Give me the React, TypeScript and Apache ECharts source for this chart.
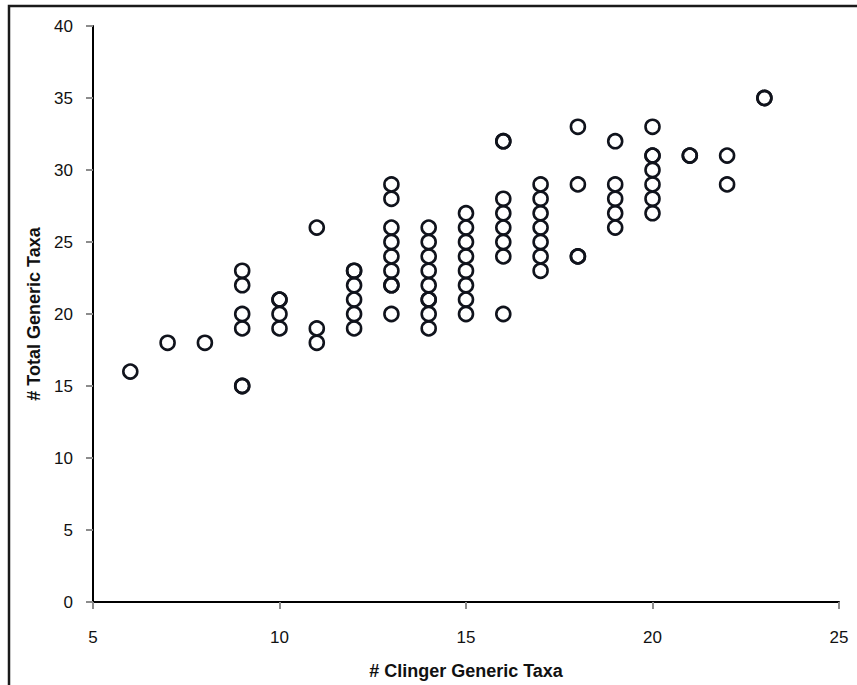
import React, { useEffect, useRef } from "react";
import * as echarts from "echarts";

// # Clinger Generic Taxa (x) and # Total Generic Taxa (y), one entry per site
const clingerTaxa = [
  6,
  7,
  8,
  9, 9, 9, 9, 9, 9,
  10, 10, 10, 10,
  11, 11, 11,
  12, 12, 12, 12, 12, 12,
  13, 13, 13, 13, 13, 13, 13, 13, 13,
  14, 14, 14, 14, 14, 14, 14, 14, 14,
  15, 15, 15, 15, 15, 15, 15, 15,
  16, 16, 16, 16, 16, 16, 16, 16,
  17, 17, 17, 17, 17, 17, 17,
  18, 18, 18, 18,
  19, 19, 19, 19, 19,
  20, 20, 20, 20, 20, 20, 20,
  21, 21,
  22, 22,
  23, 23,
];
const totalTaxa = [
  16,
  18,
  18,
  23, 22, 20, 19, 15, 15,
  21, 21, 20, 19,
  26, 19, 18,
  23, 23, 22, 21, 20, 19,
  29, 28, 26, 25, 24, 23, 22, 22, 20,
  26, 25, 24, 23, 22, 21, 21, 20, 19,
  27, 26, 25, 24, 23, 22, 21, 20,
  32, 32, 28, 27, 26, 25, 24, 20,
  29, 28, 27, 26, 25, 24, 23,
  33, 29, 24, 24,
  32, 29, 28, 27, 26,
  33, 31, 31, 30, 29, 28, 27,
  31, 31,
  31, 29,
  35, 35,
];

const xTitle = "# Clinger Generic Taxa";
const yTitle = "# Total Generic Taxa";

export default function App() {
  const ref = useRef<HTMLDivElement>(null);
  useEffect(() => {
    if (!ref.current) return;
    const chart = echarts.init(ref.current, null, { renderer: "svg" });
    const data = clingerTaxa.map((x, i) => [x, totalTaxa[i]]);
    const tickFont = "'Liberation Sans', Arial, sans-serif";
    const titleFont = "'Liberation Sans Narrow', 'Liberation Sans', Arial, sans-serif";
    chart.setOption({
      animation: false,
      backgroundColor: "#ffffff",
      grid: { left: 93, right: 18, top: 26, bottom: 81, containLabel: false },
      graphic: [
        {
          type: "rect",
          shape: { x: 9, y: 6, width: 900, height: 720 },
          style: { fill: "none", stroke: "#1a1a1a", lineWidth: 2.5 },
          z: -10,
          silent: true,
        },
      ],
      xAxis: {
        type: "value",
        min: 5,
        max: 25,
        interval: 5,
        splitLine: { show: false },
        axisLine: { show: true, onZero: false, lineStyle: { color: "#000", width: 2 } },
        axisTick: { show: true, length: 7, lineStyle: { color: "#8c8c8c", width: 2 } },
        axisLabel: { color: "#111", fontSize: 17, fontFamily: tickFont, margin: 27 },
        name: xTitle,
        nameLocation: "middle",
        nameGap: 69,
        nameTextStyle: {
          color: "#111",
          fontSize: 18,
          fontWeight: "bold",
          fontFamily: titleFont,
          verticalAlign: "middle",
        },
      },
      yAxis: {
        type: "value",
        min: 0,
        max: 40,
        interval: 5,
        splitLine: { show: false },
        axisLine: { show: true, onZero: false, lineStyle: { color: "#000", width: 2 } },
        axisTick: { show: true, length: 7, lineStyle: { color: "#8c8c8c", width: 2 } },
        axisLabel: { color: "#111", fontSize: 17, fontFamily: tickFont, margin: 20 },
        name: yTitle,
        nameLocation: "middle",
        nameGap: 58,
        nameRotate: 90,
        nameTextStyle: {
          color: "#111",
          fontSize: 18,
          fontWeight: "bold",
          fontFamily: titleFont,
          verticalAlign: "middle",
        },
      },
      series: [
        {
          type: "scatter",
          data,
          symbol: "circle",
          symbolSize: 14,
          itemStyle: {
            color: "rgba(0,0,0,0)",
            borderColor: "#10131c",
            borderWidth: 2.6,
            opacity: 1,
          },
        },
      ],
    });
    return () => chart.dispose();
  }, []);
  return (
    <div
      ref={ref}
      style={{ position: "fixed", left: 0, top: 0, width: 857, height: 685 }}
    />
  );
}
